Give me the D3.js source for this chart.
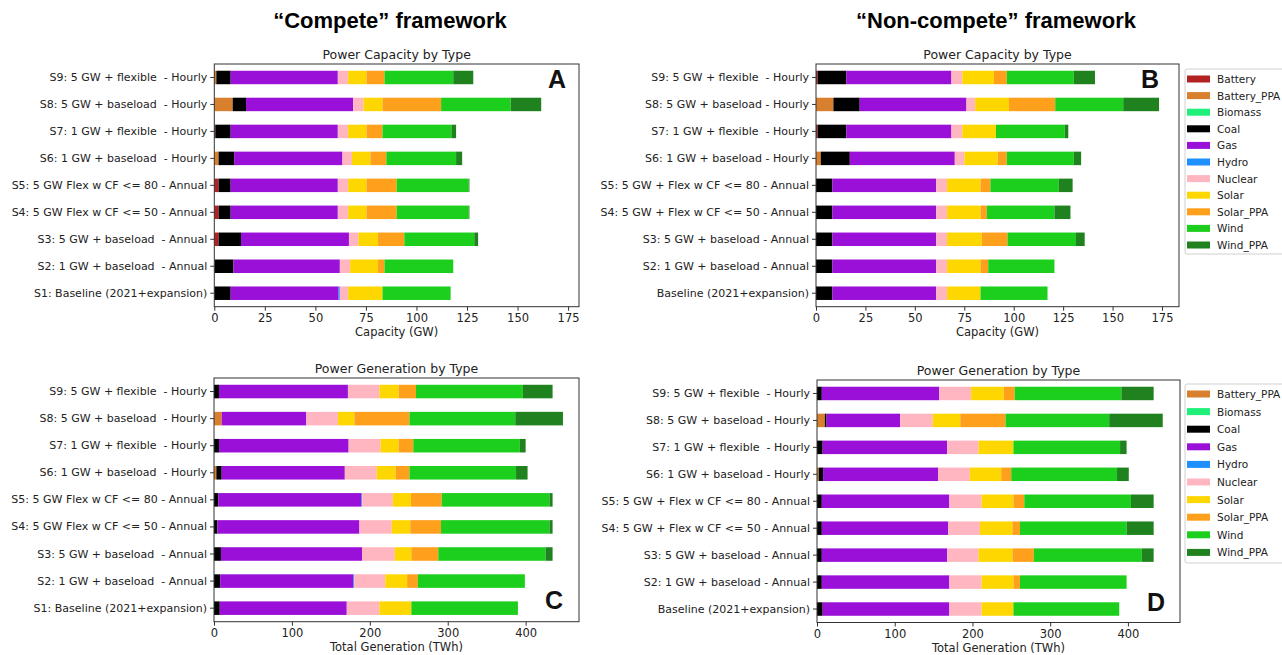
<!DOCTYPE html>
<html>
<head>
<meta charset="utf-8">
<title>Compete vs Non-compete</title>
<script src="https://cdn.jsdelivr.net/npm/d3@7"></script>
<style>
  body { margin: 0; background: #fff; }
  svg { display: block; font-family: "DejaVu Sans", sans-serif; }
</style>
</head>
<body>
<svg id="chart" width="1282" height="655"></svg>
<script>
// fuel types, in stacking / legend order
const types = ['Battery', 'Battery_PPA', 'Biomass', 'Coal', 'Gas', 'Hydro', 'Nuclear', 'Solar', 'Solar_PPA', 'Wind', 'Wind_PPA'];
const typeColors = ['#b22222', '#d8802e', '#1ef07a', '#000000', '#9a10d8', '#1e8fff', '#ffb6c1', '#ffd700', '#ffa01c', '#1ccf1c', '#1f821f'];

// scenario labels, top to bottom
const labelsCompete = [
  'S9: 5 GW + flexible  - Hourly',
  'S8: 5 GW + baseload  - Hourly',
  'S7: 1 GW + flexible  - Hourly',
  'S6: 1 GW + baseload  - Hourly',
  'S5: 5 GW Flex w CF <= 80 - Annual',
  'S4: 5 GW Flex w CF <= 50 - Annual',
  'S3: 5 GW + baseload  - Annual',
  'S2: 1 GW + baseload  - Annual',
  'S1: Baseline (2021+expansion)'
];
const labelsNonCompete = [
  'S9: 5 GW + flexible  - Hourly',
  'S8: 5 GW + baseload - Hourly',
  'S7: 1 GW + flexible  - Hourly',
  'S6: 1 GW + baseload - Hourly',
  'S5: 5 GW + Flex w CF <= 80 - Annual',
  'S4: 5 GW + Flex w CF <= 50 - Annual',
  'S3: 5 GW + baseload - Annual',
  'S2: 1 GW + baseload - Annual',
  'Baseline (2021+expansion)'
];

// capacity (GW), one row per scenario, columns in `types` order
const capCompete = [
  [0, 1.0, 0, 7.1, 53.0, 0, 5.1, 9.1, 8.9, 34.0, 9.9],
  [0, 9.1, 0, 6.6, 53.0, 0, 5.1, 9.4, 29.0, 34.4, 15.1],
  [0.5, 0, 0, 7.6, 53.0, 0, 5.1, 9.1, 7.9, 34.1, 2.3],
  [0, 2.1, 0, 7.7, 53.6, 0, 4.7, 9.1, 7.9, 34.5, 3.0],
  [2.1, 0, 0, 6.0, 53.0, 0, 5.1, 9.1, 14.9, 35.6, 0.4],
  [2.1, 0, 0, 6.0, 53.0, 0, 5.1, 9.1, 14.9, 35.6, 0.4],
  [2.1, 0, 0, 11.1, 53.4, 0, 4.7, 9.7, 13.0, 34.6, 1.9],
  [0.3, 0, 0, 9.2, 52.6, 0, 5.1, 13.8, 3.2, 34.0, 0],
  [0, 0, 0, 8.1, 53.4, 0.6, 4.1, 17.0, 0, 33.7, 0]
];
const capNonCompete = [
  [0.8, 0, 0, 14.5, 53.2, 0, 5.5, 16.0, 6.5, 33.9, 10.7],
  [0, 8.8, 0, 13.3, 54.0, 0, 4.4, 17.1, 23.4, 34.4, 18.1],
  [0.8, 0, 0, 14.5, 53.2, 0, 5.5, 17.0, 0, 34.8, 1.8],
  [0, 2.4, 0, 14.7, 53.1, 0, 4.9, 16.8, 4.6, 33.9, 3.7],
  [0, 0, 0, 8.3, 52.5, 0, 5.5, 16.9, 5.0, 34.6, 7.0],
  [0, 0, 0, 8.3, 52.5, 0, 5.5, 16.9, 3.2, 34.2, 8.1],
  [0, 0, 0, 8.3, 52.5, 0, 5.5, 17.5, 13.1, 34.6, 4.4],
  [0, 0, 0, 8.3, 52.5, 0, 5.5, 16.9, 3.9, 33.5, 0],
  [0, 0, 0, 8.3, 52.5, 0, 5.5, 16.9, 0, 33.9, 0]
];

// generation (TWh)
const genCompete = [
  [0, 0, 0, 6.4, 165.5, 0, 40.4, 24.7, 22.3, 137.2, 38.1],
  [0, 9.9, 0, 0, 108.6, 0, 40.5, 21.2, 70.7, 135.8, 61.2],
  [0, 0, 0, 6.4, 166.4, 0, 41.0, 23.2, 18.8, 136.8, 7.4],
  [0, 3.0, 0, 6.9, 158.0, 0, 41.0, 24.2, 17.8, 136.8, 14.8],
  [0, 0, 0, 5.4, 183.7, 1.0, 39.5, 23.2, 39.5, 138.3, 4.0],
  [0, 0, 0, 4.4, 182.3, 0, 41.4, 23.8, 39.5, 139.2, 4.0],
  [0, 0, 0, 8.9, 181.2, 0, 42.0, 21.2, 34.6, 137.8, 8.9],
  [0, 0, 0, 7.9, 170.9, 1.0, 40.0, 28.1, 13.8, 137.3, 0],
  [0, 0, 0, 7.4, 163.0, 0, 41.9, 41.0, 0, 136.8, 0]
];
const genNonCompete = [
  [0, 0, 0, 6.2, 151.2, 0, 40.9, 42.0, 14.0, 137.3, 41.5],
  [0, 10.1, 0, 2.2, 94.7, 0, 42.0, 35.3, 58.3, 133.3, 68.9],
  [0, 0, 0, 7.3, 160.2, 0, 40.3, 44.9, 0, 137.2, 8.4],
  [0, 2.2, 0, 5.6, 147.9, 0, 40.9, 40.4, 12.9, 136.1, 15.1],
  [0, 0, 0, 6.2, 164.1, 0, 41.5, 40.9, 14.0, 137.2, 29.2],
  [0, 0, 0, 6.2, 162.4, 0, 40.9, 42.0, 9.6, 137.2, 34.8],
  [0, 0, 0, 6.2, 161.3, 0, 40.3, 43.7, 27.5, 138.9, 15.2],
  [0, 0, 0, 6.2, 164.1, 0, 41.5, 40.9, 8.4, 137.2, 0],
  [0, 0, 0, 7.3, 163.0, 0, 41.5, 40.9, 0, 136.1, 0]
];

const capTicks = [0, 25, 50, 75, 100, 125, 150, 175];
const genTicks = [0, 100, 200, 300, 400];

const svg = d3.select('#chart');
const color = d3.scaleOrdinal(types, typeColors);

// framework headings
svg.append('text').attr('x', 390).attr('y', 28).attr('text-anchor', 'middle')
  .style('font-family', '"Liberation Sans", Arial, sans-serif').style('font-weight', 'bold').style('font-size', '22px')
  .text('\u201cCompete\u201d framework');
svg.append('text').attr('x', 996).attr('y', 28).attr('text-anchor', 'middle')
  .style('font-family', '"Liberation Sans", Arial, sans-serif').style('font-weight', 'bold').style('font-size', '22px')
  .text('\u201cNon-compete\u201d framework');

function drawPanel(p) {
  const g = svg.append('g');
  const x = d3.scaleLinear().domain([0, p.xmax]).range([p.left, p.right]);
  const y = d3.scaleBand().domain(p.labels).range([p.top, p.bottom]).paddingInner(0.5).paddingOuter(0.25);

  const rows = p.values.map((v, i) => {
    const o = { label: p.labels[i] };
    types.forEach((t, j) => o[t] = v[j]);
    return o;
  });
  const series = d3.stack().keys(types)(rows);

  g.selectAll('g.layer')
    .data(series)
    .join('g')
    .attr('class', 'layer')
    .attr('fill', d => color(d.key))
    .selectAll('rect')
    .data(d => d)
    .join('rect')
    .attr('x', d => x(d[0]))
    .attr('width', d => Math.max(0, x(d[1]) - x(d[0])))
    .attr('y', d => y(d.data.label))
    .attr('height', y.bandwidth());

  // frame
  g.append('rect')
    .attr('x', p.left).attr('y', p.top)
    .attr('width', p.right - p.left).attr('height', p.bottom - p.top)
    .attr('fill', 'none').attr('stroke', '#333').attr('stroke-width', 1);

  const ya = g.append('g').attr('transform', `translate(${p.left},0)`)
    .call(d3.axisLeft(y).tickSize(4).tickPadding(3));
  ya.select('.domain').remove();
  ya.selectAll('text').style('font-size', '11px').style('fill', '#222').style('white-space', 'pre')
    .style('font-family', '"DejaVu Sans", sans-serif');
  ya.selectAll('line').attr('stroke', '#333');

  const xa = g.append('g').attr('transform', `translate(0,${p.bottom})`)
    .call(d3.axisBottom(x).tickValues(p.ticks).tickSize(4).tickPadding(3));
  xa.select('.domain').remove();
  xa.selectAll('text').style('font-size', '11.5px').style('fill', '#222')
    .style('font-family', '"DejaVu Sans", sans-serif');
  xa.selectAll('line').attr('stroke', '#333');

  const cx = (p.left + p.right) / 2;
  g.append('text').attr('x', cx).attr('y', p.top - 5).attr('text-anchor', 'middle')
    .style('font-size', '12.5px').style('fill', '#222').text(p.title);
  g.append('text').attr('x', cx).attr('y', p.bottom + 29).attr('text-anchor', 'middle')
    .style('font-size', '11.5px').style('fill', '#222').text(p.xlabel);

  // panel letter
  g.append('text').attr('x', p.letterX).attr('y', p.letterY).attr('text-anchor', 'middle')
    .style('font-family', '"Liberation Sans", Arial, sans-serif').style('font-weight', 'bold')
    .style('font-size', '25px').style('fill', '#111').text(p.letter);
}

function drawLegend(keys, lx, ly, h, step) {
  const g = svg.append('g');
  g.append('rect').attr('x', lx).attr('y', ly).attr('width', 120).attr('height', h)
    .attr('rx', 2).attr('fill', '#fff').attr('stroke', '#d0d0d0');
  const item = g.selectAll('g.item').data(keys).join('g')
    .attr('class', 'item')
    .attr('transform', (d, i) => `translate(${lx + 2},${ly + 10 + i * step})`);
  item.append('rect').attr('x', 0).attr('y', -3.5).attr('width', 23).attr('height', 7)
    .attr('fill', d => color(d));
  item.append('text').attr('x', 30).attr('y', 4).style('font-size', '10.5px').style('fill', '#222')
    .text(d => d);
}

drawPanel({ left: 214.3, right: 579, top: 64, bottom: 306.7, xmax: 180.4, labels: labelsCompete,
  values: capCompete, ticks: capTicks, title: 'Power Capacity by Type', xlabel: 'Capacity (GW)',
  letter: 'A', letterX: 557, letterY: 88 });
drawPanel({ left: 816, right: 1179, top: 64, bottom: 306.7, xmax: 183.6, labels: labelsNonCompete,
  values: capNonCompete, ticks: capTicks, title: 'Power Capacity by Type', xlabel: 'Capacity (GW)',
  letter: 'B', letterX: 1150, letterY: 88 });
drawPanel({ left: 214, right: 579, top: 378, bottom: 621.7, xmax: 468.5, labels: labelsCompete,
  values: genCompete, ticks: genTicks, title: 'Power Generation by Type', xlabel: 'Total Generation (TWh)',
  letter: 'C', letterX: 554, letterY: 609 });
drawPanel({ left: 817, right: 1180, top: 380, bottom: 622.5, xmax: 467, labels: labelsNonCompete,
  values: genNonCompete, ticks: genTicks, title: 'Power Generation by Type', xlabel: 'Total Generation (TWh)',
  letter: 'D', letterX: 1156, letterY: 611 });

drawLegend(types, 1185, 69, 185, 16.6);
drawLegend(types.slice(1), 1185, 384, 179, 17.6);
</script>
</body>
</html>
